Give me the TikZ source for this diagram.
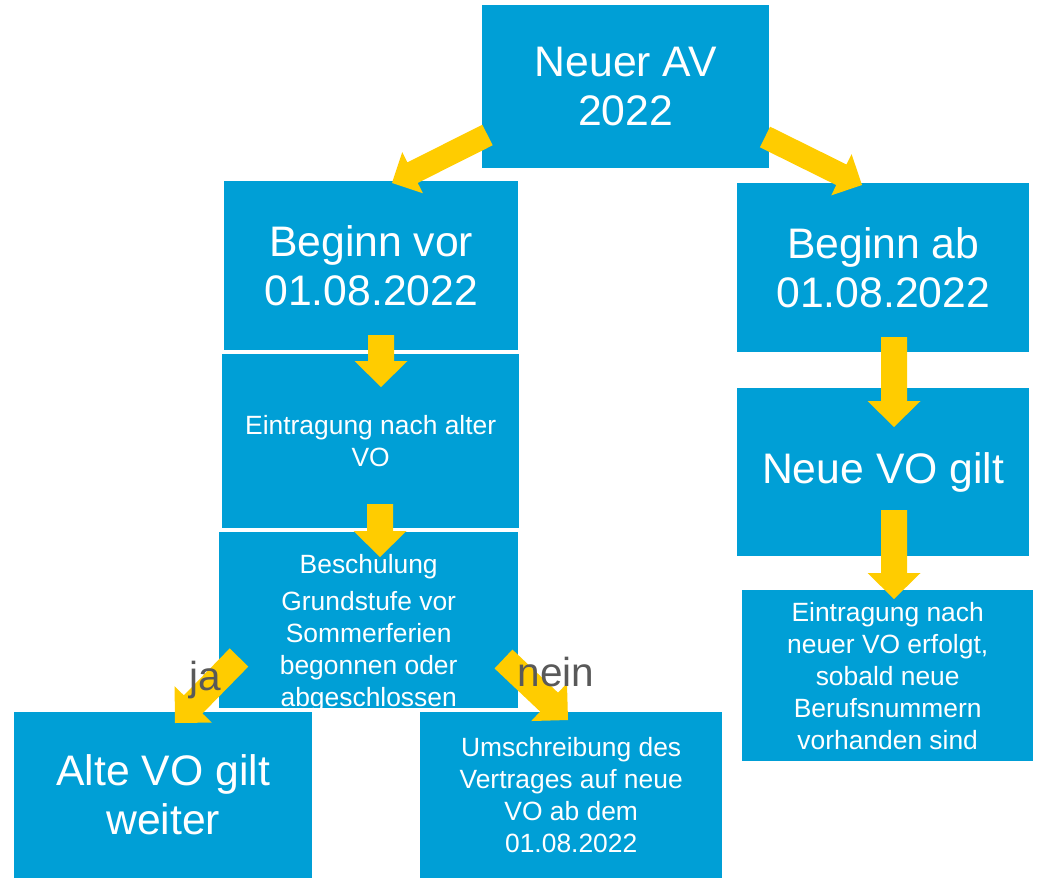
\documentclass[tikz,border=0pt]{standalone}
\usepackage{fontspec}
\setmainfont{Liberation Sans}
\usetikzlibrary{calc}
\definecolor{boxblue}{RGB}{0,159,214}
\definecolor{arrowyellow}{RGB}{255,204,0}
\definecolor{labelgray}{RGB}{89,89,89}
\newcommand\blockarrow[5]{% from, to, shaft half width, head half width, head length
  \coordinate (hb) at ($(#2)!#5!(#1)$);
  \fill[arrowfill] ($(#1)!#3!90:(#2)$) -- ($(hb)!#3!90:(#2)$) -- ($(hb)!#4!90:(#2)$) -- (#2)
    -- ($(hb)!#4!-90:(#2)$) -- ($(hb)!#3!-90:(#2)$) -- ($(#1)!#3!-90:(#2)$) -- cycle;}
\tikzset{
  box/.style={fill=boxblue, inner sep=0pt, anchor=north west, text=white, align=center},
  big/.style={font=\fontsize{42.7}{49}\selectfont},
  small/.style={font=\fontsize{26.4}{32}\selectfont},
  arrowfill/.style={fill=arrowyellow},
  answer/.style={text=labelgray, font=\fontsize{40.5}{48}\selectfont, inner sep=0pt}
}
\begin{document}
\begin{tikzpicture}[x=1pt,y=-1pt]
\useasboundingbox (0,0) rectangle (1039,878);
% boxes
\node[box,big,minimum width=287pt,minimum height=163pt] (top) at (482,5) {Neuer AV\\2022};
\node[box,big,minimum width=294pt,minimum height=169pt] (vor) at (224,181) {Beginn vor\\01.08.2022};
\node[box,small,minimum width=297pt,minimum height=174pt] (alt) at (222,354) {Eintragung nach alter\\VO};
\node[box,minimum width=299pt,minimum height=176pt] (besch) at (219,532) {};
\node[small,text=white,align=center,inner sep=0pt] (beschtext) at ($(besch.center)+(0,12.5)$) {Beschulung\\[5pt]Grundstufe vor\\Sommerferien\\begonnen oder\\abgeschlossen};
\node[box,big,minimum width=298pt,minimum height=166pt] (altgilt) at (14,712) {Alte VO gilt\\weiter};
\node[box,small,minimum width=302pt,minimum height=166pt] (umschr) at (420,712) {Umschreibung des\\Vertrages auf neue\\VO ab dem\\01.08.2022};
\node[box,big,minimum width=292pt,minimum height=169pt] (ab) at (737,183) {Beginn ab\\01.08.2022};
\node[box,big,minimum width=292pt,minimum height=168pt] (neugilt) at (737,388) {Neue VO gilt};
\node[box,small,minimum width=291pt,minimum height=171pt] (neu) at (742,590) {Eintragung nach\\neuer VO erfolgt,\\sobald neue\\Berufsnummern\\vorhanden sind};
% arrow end points
\coordinate (a1s) at (381,335); \coordinate (a1e) at (381,387);
\coordinate (a2s) at (380,504); \coordinate (a2e) at (380,557);
\coordinate (a3s) at (894,337); \coordinate (a3e) at (894,427);
\coordinate (a4s) at (894,510); \coordinate (a4e) at (894,599);
\coordinate (d1s) at (487.5,135); \coordinate (d1e) at (392,183);
\coordinate (d2s) at (765,137); \coordinate (d2e) at (862,185);
\coordinate (d3s) at (239,657.5); \coordinate (d3e) at (175,723);
\coordinate (d4s) at (503.5,659); \coordinate (d4e) at (568,720);
% arrows
\blockarrow{d1s}{d1e}{11.5pt}{23pt}{23pt}
\blockarrow{d2s}{d2e}{11.5pt}{23pt}{23pt}
\blockarrow{a1s}{a1e}{13pt}{26.5pt}{26pt}
\blockarrow{a2s}{a2e}{13pt}{26.5pt}{26pt}
\blockarrow{a3s}{a3e}{13pt}{26.5pt}{26pt}
\blockarrow{a4s}{a4e}{13pt}{26.5pt}{26pt}
\blockarrow{d3s}{d3e}{13pt}{26pt}{26pt}
\blockarrow{d4s}{d4e}{13pt}{26pt}{26pt}
% answer labels
\node[answer] (ja) at (205,680) {ja};
\node[answer] (nein) at (556,672) {nein};
\end{tikzpicture}
\end{document}
